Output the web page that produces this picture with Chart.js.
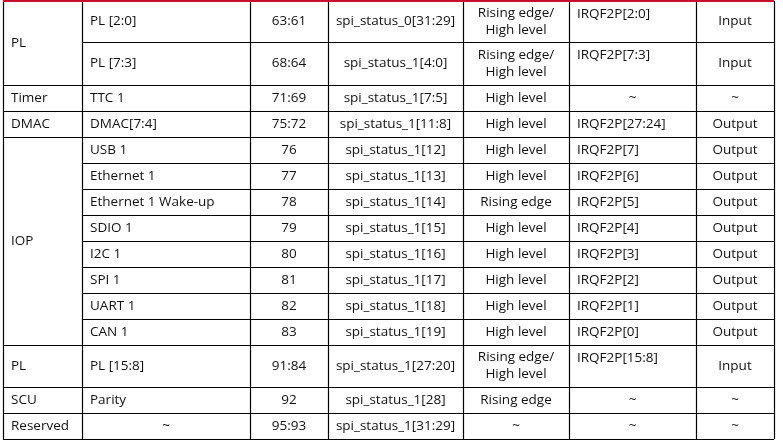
<!DOCTYPE html>
<html>
<head>
<meta charset="utf-8">
<script src="https://cdn.jsdelivr.net/npm/chart.js@4"></script>
<style>
  body { margin: 0; background: #fff; }
  canvas { display: block; }
</style>
</head>
<body>
<canvas id="table_chart" width="783" height="446"></canvas>
<script>

// table contents, one entry per row
let groups = [["PL", 0, 2], ["Timer", 2, 1], ["DMAC", 3, 1], ["IOP", 4, 8], ["PL", 12, 1], ["SCU", 13, 1], ["Reserved", 14, 1]];
let sources = ["PL [2:0]", "PL [7:3]", "TTC 1", "DMAC[7:4]", "USB 1", "Ethernet 1", "Ethernet 1 Wake-up", "SDIO 1", "I2C 1", "SPI 1", "UART 1", "CAN 1", "PL [15:8]", "Parity", "~"];
let irq_ids = ["63:61", "68:64", "71:69", "75:72", "76", "77", "78", "79", "80", "81", "82", "83", "91:84", "92", "95:93"];
let status_bits = ["spi_status_0[31:29]", "spi_status_1[4:0]", "spi_status_1[7:5]", "spi_status_1[11:8]", "spi_status_1[12]", "spi_status_1[13]", "spi_status_1[14]", "spi_status_1[15]", "spi_status_1[16]", "spi_status_1[17]", "spi_status_1[18]", "spi_status_1[19]", "spi_status_1[27:20]", "spi_status_1[28]", "spi_status_1[31:29]"];
let triggers = ["Rising edge/\nHigh level", "Rising edge/\nHigh level", "High level", "High level", "High level", "High level", "Rising edge", "High level", "High level", "High level", "High level", "High level", "Rising edge/\nHigh level", "Rising edge", "~"];
let irqf2p = ["IRQF2P[2:0]", "IRQF2P[7:3]", "~", "IRQF2P[27:24]", "IRQF2P[7]", "IRQF2P[6]", "IRQF2P[5]", "IRQF2P[4]", "IRQF2P[3]", "IRQF2P[2]", "IRQF2P[1]", "IRQF2P[0]", "IRQF2P[15:8]", "~", "~"];
let directions = ["Input", "Input", "~", "Output", "Output", "Output", "Output", "Output", "Output", "Output", "Output", "Output", "Input", "~", "~"];

// layout (in scale units = pixels)
const col_edges = [3, 82, 250, 328, 463, 569, 696, 774];
const row_edges = [1, 42, 85, 111, 137, 163, 189, 215, 241, 267, 293, 319, 345, 387, 413, 439];

const tablePlugin = {
    id: "tablePlugin",
    afterDraw(chart){
        const ctx = chart.ctx;
        const sx = chart.scales.x, sy = chart.scales.y;
        const X = v => sx.getPixelForValue(v);
        const Y = v => sy.getPixelForValue(v);

        ctx.save();
        ctx.font = "13.5px 'Open Sans', 'Noto Sans', sans-serif";
        ctx.fillStyle = "#111";
        ctx.textBaseline = "middle";

        const text = (str, c, r0, r1, align, top) => {
            const lines = str.split("\n");
            let xl = X(col_edges[c]), xr = X(col_edges[c + 1]);
            let x = align === "left" ? xl + 8 : (xl + xr) / 2;
            ctx.textAlign = align === "left" ? "left" : "center";
            let yc = top ? Y(row_edges[r0]) + 13 : (Y(row_edges[r0]) + Y(row_edges[r1])) / 2 - (lines.length - 1) * 8.5;
            lines.forEach((l, i) => ctx.fillText(l, x, yc + i * 17));
        };

        groups.forEach(g => text(g[0], 0, g[1], g[1] + g[2], "left"));
        for(let r = 0; r < sources.length; r++){
            let tall = row_edges[r + 1] - row_edges[r] > 30;
            text(sources[r], 1, r, r + 1, sources[r] === "~" ? "center" : "left");
            text(irq_ids[r], 2, r, r + 1, "center");
            text(status_bits[r], 3, r, r + 1, "center");
            text(triggers[r], 4, r, r + 1, "center");
            text(irqf2p[r], 5, r, r + 1, irqf2p[r] === "~" ? "center" : "left", tall);
            text(directions[r], 6, r, r + 1, "center");
        }

        // grid lines
        ctx.strokeStyle = "#000";
        ctx.lineWidth = 1.2;
        ctx.beginPath();
        col_edges.forEach(c => {
            ctx.moveTo(Math.round(X(c)) + 0.5, Y(row_edges[0]));
            ctx.lineTo(Math.round(X(c)) + 0.5, Y(row_edges[row_edges.length - 1]));
        });
        let group_starts = groups.map(g => g[1]);
        for(let r = 1; r < row_edges.length; r++){
            let y = Math.round(Y(row_edges[r])) + 0.5;
            let x0 = (group_starts.includes(r) || r === row_edges.length - 1) ? col_edges[0] : col_edges[1];
            ctx.moveTo(X(x0), y);
            ctx.lineTo(X(col_edges[col_edges.length - 1]), y);
        }
        ctx.stroke();

        // red top rule
        ctx.strokeStyle = "#c8102e";
        ctx.lineWidth = 2;
        ctx.beginPath();
        ctx.moveTo(X(col_edges[0]), Y(row_edges[0]));
        ctx.lineTo(X(col_edges[col_edges.length - 1]), Y(row_edges[0]));
        ctx.stroke();
        ctx.restore();
    }
};

new Chart(table_chart, {
    type: "scatter",
    data: { datasets: [{ data: [] }] },
    options: {
        responsive: false,
        animation: false,
        layout: { padding: 0 },
        plugins: { legend: { display: false }, tooltip: { enabled: false } },
        scales: {
            x: { type: "linear", min: 0, max: 783, display: false },
            y: { type: "linear", min: 0, max: 446, reverse: true, display: false }
        }
    },
    plugins: [tablePlugin]
});

</script>
</body>
</html>
